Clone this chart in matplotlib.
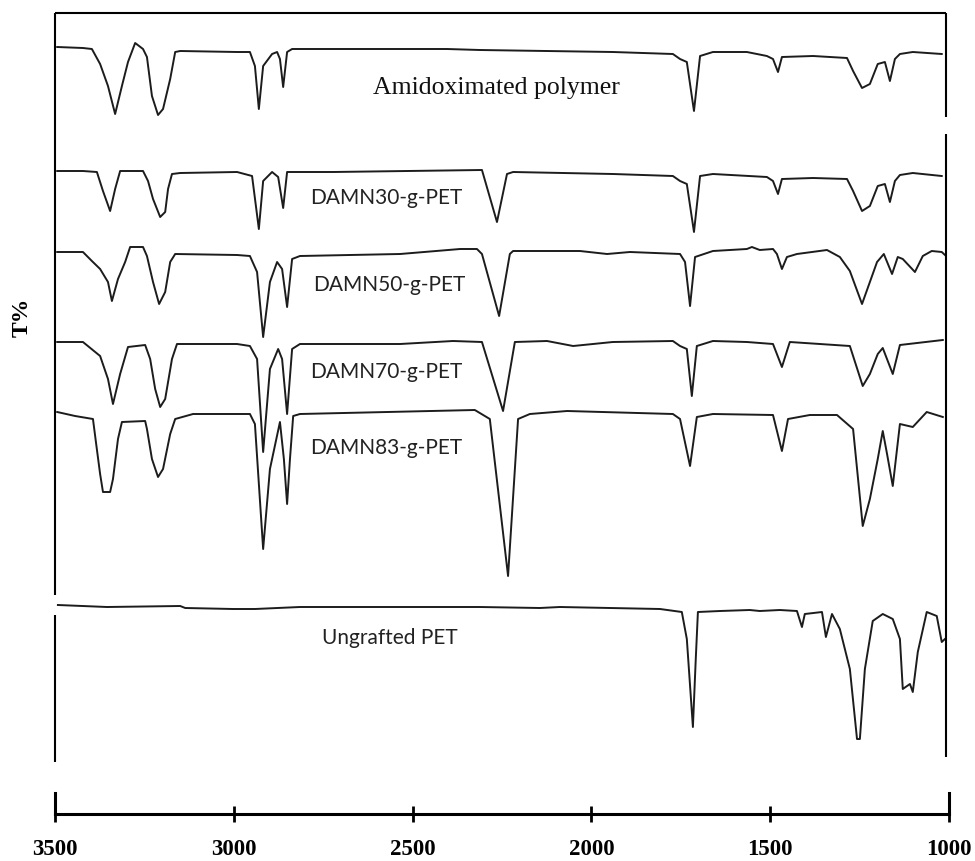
import matplotlib
matplotlib.use("Agg")
import matplotlib.pyplot as plt

# FTIR spectra, stacked. x = wavenumber (cm-1), y = offset transmittance
# (kept in image-row units, axis is inverted so larger value = lower T)

amid_wn = [3494, 3422, 3397, 3374, 3352, 3332, 3313, 3296, 3276, 3254, 3243, 3229, 3212, 3198, 3178,
           3164, 3150, 2991, 2955, 2941, 2930, 2918, 2893, 2879, 2871, 2862, 2851, 2837, 2404, 2312,
           1940, 1772, 1752, 1733, 1713, 1696, 1660, 1565, 1509, 1492, 1478, 1467, 1380, 1285, 1268,
           1243, 1221, 1199, 1179, 1165, 1151, 1137, 1101, 1020]
amid_t = [48, 49, 50, 65, 87, 115, 87, 63, 44, 50, 58, 97, 116, 110, 80,
          53, 52, 53, 53, 67, 110, 67, 55, 53, 60, 88, 53, 50, 50, 51,
          53, 55, 60, 63, 112, 57, 53, 53, 57, 60, 73, 58, 57, 59, 72,
          89, 85, 65, 63, 82, 60, 55, 53, 55]

d30_wn = [3494, 3422, 3383, 3366, 3346, 3332, 3318, 3254, 3240, 3226, 3206, 3192, 3184, 3173, 3150,
          2991, 2949, 2930, 2918, 2893, 2876, 2862, 2851, 2723, 2306, 2264, 2236, 2219, 1940, 1772,
          1752, 1733, 1713, 1696, 1660, 1509, 1492, 1478, 1467, 1380, 1285, 1268, 1243, 1221, 1199,
          1179, 1165, 1151, 1137, 1101, 1020]
d30_t = [172, 172, 173, 192, 212, 190, 172, 172, 182, 200, 218, 213, 190, 175, 174,
         173, 177, 230, 182, 173, 178, 209, 173, 173, 171, 223, 175, 173, 175, 177,
         182, 185, 233, 177, 175, 178, 182, 195, 180, 179, 180, 192, 212, 207, 187,
         185, 203, 182, 176, 174, 177]

d50_wn = [3494, 3422, 3397, 3374, 3352, 3341, 3324, 3304, 3290, 3254, 3243, 3226, 3209, 3192, 3178,
          3164, 2991, 2955, 2935, 2918, 2899, 2879, 2865, 2851, 2837, 2815, 2535, 2367, 2320, 2306,
          2258, 2228, 2219, 2032, 1956, 1892, 1752, 1738, 1724, 1710, 1660, 1565, 1551, 1529, 1492,
          1481, 1467, 1453, 1425, 1341, 1305, 1277, 1243, 1221, 1201, 1182, 1159, 1143, 1129, 1095,
          1073, 1048, 1020, 1011]
d50_t = [253, 253, 262, 270, 283, 302, 280, 263, 248, 248, 257, 283, 305, 293, 263,
         255, 256, 257, 273, 338, 283, 263, 270, 308, 260, 257, 255, 250, 250, 255,
         317, 255, 252, 252, 255, 253, 255, 263, 307, 258, 252, 250, 248, 251, 250,
         255, 270, 258, 255, 251, 258, 272, 305, 283, 263, 255, 275, 258, 260, 273,
         257, 252, 253, 256]

d70_wn = [3494, 3422, 3374, 3352, 3338, 3318, 3296, 3248, 3234, 3220, 3206, 3192, 3173, 3159, 2991,
          2955, 2935, 2918, 2899, 2876, 2865, 2851, 2837, 2815, 2535, 2387, 2306, 2247, 2214, 2124,
          2051, 1940, 1772, 1752, 1733, 1719, 1705, 1660, 1565, 1492, 1467, 1445, 1277, 1241, 1221,
          1199, 1185, 1157, 1137, 1017]
d70_t = [343, 343, 357, 380, 405, 375, 348, 346, 360, 390, 408, 400, 360, 345, 345,
         347, 360, 453, 370, 350, 360, 415, 350, 345, 345, 342, 343, 412, 343, 342,
         347, 343, 342, 347, 350, 397, 347, 342, 343, 345, 368, 343, 347, 387, 375,
         355, 349, 375, 346, 341]

d83_wn = [3494, 3444, 3394, 3385, 3374, 3366, 3346, 3338, 3324, 3313, 3248, 3243, 3229, 3212, 3198,
          3178, 3164, 3114, 2955, 2941, 2918, 2899, 2871, 2860, 2851, 2843, 2834, 2815, 2326, 2284,
          2233, 2205, 2172, 2068, 1772, 1752, 1724, 1705, 1660, 1492, 1467, 1450, 1389, 1313, 1268,
          1241, 1221, 1199, 1185, 1173, 1157, 1137, 1101, 1062, 1017]
d83_t = [413, 417, 420, 445, 475, 493, 493, 480, 440, 423, 422, 430, 460, 478, 470,
         435, 420, 415, 415, 425, 550, 470, 423, 460, 505, 460, 417, 415, 411, 420,
         577, 420, 415, 412, 415, 420, 467, 418, 415, 416, 452, 420, 416, 416, 430,
         527, 500, 460, 432, 455, 487, 425, 428, 413, 418]

pet_wn = [3492, 3355, 3150, 3136, 3002, 2941, 2815, 2312, 2144, 2088, 1948, 1808, 1747, 1733, 1716,
          1708, 1702, 1640, 1557, 1529, 1473, 1425, 1411, 1403, 1355, 1344, 1327, 1305, 1277, 1257,
          1249, 1235, 1213, 1185, 1157, 1137, 1129, 1117, 1109, 1101, 1087, 1062, 1034, 1020, 1011]
pet_t = [606, 608, 607, 609, 610, 610, 608, 608, 609, 608, 609, 610, 613, 640, 728,
         660, 613, 612, 611, 612, 611, 612, 628, 615, 613, 638, 615, 630, 670, 740,
         740, 670, 622, 615, 620, 640, 690, 687, 685, 693, 653, 613, 617, 643, 640]

labels = ["Amidoximated polymer", "DAMN30-g-PET", "DAMN50-g-PET",
          "DAMN70-g-PET", "DAMN83-g-PET", "Ungrafted PET"]
label_wn = [2611, 2787, 2779, 2787, 2787, 2753]
label_t = [88, 198, 285, 372, 448, 638]

ticks = [3500, 3000, 2500, 2000, 1500, 1000]

W, H = 975, 862
fig = plt.figure(figsize=(W / 100, H / 100), dpi=100)
ax = fig.add_axes([0, 0, 1, 1])
ax.set_xlim(3654, 927)
ax.set_ylim(H, 0)
ax.axis("off")

lc = "#1c1c1c"
for xs, ys in [(amid_wn, amid_t), (d30_wn, d30_t), (d50_wn, d50_t),
               (d70_wn, d70_t), (d83_wn, d83_t), (pet_wn, pet_t)]:
    ax.plot(xs, ys, color=lc, lw=1.4, solid_joinstyle="round")

# broken frame like the original figure
fk = dict(color="black", lw=1.5, solid_capstyle="butt")
ax.plot([3500, 1008], [14, 14], **fk)
ax.plot([3500, 3500], [14, 596], **fk)
ax.plot([3500, 3500], [616, 763], **fk)
ax.plot([1008, 1008], [14, 118], **fk)
ax.plot([1008, 1008], [135, 758], **fk)

for i, lab in enumerate(labels):
    if i == 0:
        ax.text(label_wn[i], label_t[i], lab, family="Liberation Serif", fontsize=18.5,
                ha="left", va="center", color="#111111")
    else:
        ax.text(label_wn[i], label_t[i], lab, family="Lato", fontsize=15,
                ha="left", va="center", color="#222222")

fig.text(22 / W, 1 - 317 / H, "T%", rotation=90, family="Liberation Serif",
         fontweight="bold", fontsize=17, ha="center", va="center")

# separate x axis below the spectra
ax2 = fig.add_axes([55 / W, (H - 815) / H, 894 / W, 30 / H])
ax2.set_xlim(3500, 1000)
ax2.set_ylim(0, 1)
ax2.patch.set_alpha(0)
for s in ["top", "left", "right"]:
    ax2.spines[s].set_visible(False)
ax2.spines["bottom"].set_linewidth(2.2)
ax2.set_yticks([])
ax2.set_xticks(ticks)
ax2.set_xticklabels([str(t) for t in ticks])
ax2.tick_params(axis="x", direction="inout", length=12, width=2, pad=11)
for lab in ax2.get_xticklabels():
    lab.set_family("Liberation Serif")
    lab.set_fontweight("bold")
    lab.set_fontsize(16.5)
for t in (3500, 1000):
    ax2.axvline(t, 0, 0.7, color="black", lw=2.2, clip_on=False)

fig.savefig("out.png", dpi=100)
